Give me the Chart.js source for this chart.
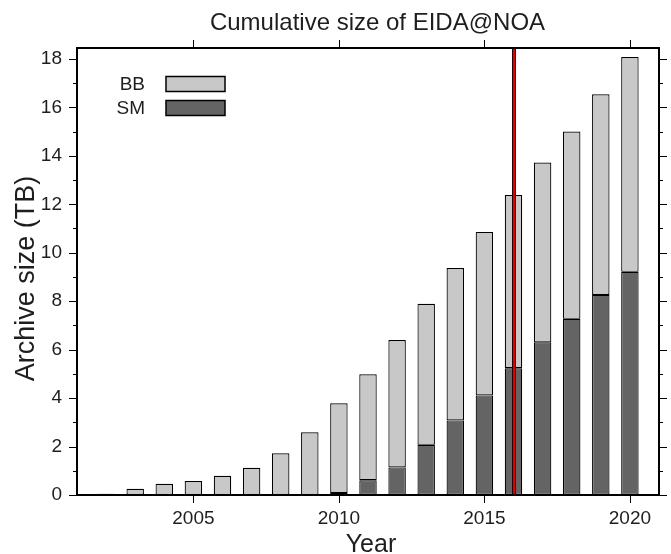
<!DOCTYPE html>
<html>
<head>
<meta charset="utf-8">
<script src="https://cdn.jsdelivr.net/npm/chart.js@4/dist/chart.umd.min.js"></script>
<style>
html,body{margin:0;padding:0;background:#fff;}
#wrap{width:671px;height:554px;position:relative;}
</style>
</head>
<body>
<div id="wrap"><canvas id="c" width="671" height="554"></canvas></div>
<script>
// ---- data ----
const years      = [2002,2003,2004,2005,2006,2007,2008,2009,2010,2011,2012,2013,2014,2015,2016,2017,2018,2019,2020];
const smValues   = [null,null,null,null,null,null,null,null,0.08,0.61,1.14,2.07,3.08,4.11,5.23,6.30,7.27,8.26,9.21];
const bbValues   = [0.05,0.26,0.46,0.58,0.79,1.12,1.72,2.59,3.71,4.37,5.26,5.82,6.29,6.75,7.15,7.42,7.73,8.28,8.87];
const yTickValues      = [0,2,4,6,8,10,12,14,16,18];
const yMinorTickValues = [1,3,5,7,9,11,13,15,17];
const xTickValues      = [2005,2010,2015,2020];
const markerYear = 2016;
const legendOrder = ['BB','SM'];
const chartTitle = 'Cumulative size of EIDA@NOA';
const xTitle = 'Year';
const yTitle = 'Archive size (TB)';

const FONT = '"Liberation Sans", Arial, Helvetica, sans-serif';
const TEXT = '#1e1e1e';

const decor = {
  id: 'decor',
  afterDatasetsDraw(chart) {
    const ctx = chart.ctx, a = chart.chartArea, xs = chart.scales.x, ys = chart.scales.y;
    ctx.save();
    // marker line
    const mx = Math.round(xs.getPixelForValue(markerYear));
    ctx.lineCap = 'butt';
    ctx.beginPath(); ctx.moveTo(mx, a.top); ctx.lineTo(mx, a.bottom);
    ctx.strokeStyle = '#2a0000'; ctx.lineWidth = 4; ctx.stroke();
    ctx.beginPath(); ctx.moveTo(mx, a.top); ctx.lineTo(mx, a.bottom);
    ctx.strokeStyle = '#e00000'; ctx.lineWidth = 2; ctx.stroke();
    // ticks
    ctx.strokeStyle = '#000'; ctx.lineWidth = 1;
    const hTick = (v, len) => {
      const py = Math.round(ys.getPixelForValue(v)) + 0.5;
      ctx.beginPath();
      ctx.moveTo(a.left - len, py); ctx.lineTo(a.left, py);
      ctx.moveTo(a.right, py); ctx.lineTo(a.right + len, py);
      ctx.stroke();
    };
    yTickValues.forEach(v => hTick(v, 8));
    yMinorTickValues.forEach(v => hTick(v, 4));
    xTickValues.forEach(v => {
      const px = Math.round(xs.getPixelForValue(v)) + 0.5;
      ctx.beginPath();
      ctx.moveTo(px, a.bottom); ctx.lineTo(px, a.bottom + 8);
      ctx.moveTo(px, a.top - 8); ctx.lineTo(px, a.top);
      ctx.stroke();
    });
    // frame
    ctx.lineWidth = 2; ctx.strokeStyle = '#000';
    ctx.strokeRect(a.left, a.top, a.right - a.left, a.bottom - a.top);
    // legend
    ctx.font = '19px ' + FONT;
    ctx.textAlign = 'right'; ctx.textBaseline = 'middle'; ctx.fillStyle = TEXT;
    legendOrder.forEach((lab, i) => {
      const ds = chart.data.datasets.find(d => d.label === lab);
      const cy = 84 + i * 24;
      ctx.fillStyle = TEXT;
      ctx.fillText(lab, 145, cy + 0.5);
      ctx.fillStyle = ds.backgroundColor;
      ctx.fillRect(166, cy - 7.5, 59, 15);
      ctx.lineWidth = 1.5; ctx.strokeStyle = '#000';
      ctx.strokeRect(166, cy - 7.5, 59, 15);
    });
    // titles
    ctx.fillStyle = TEXT; ctx.textAlign = 'center'; ctx.textBaseline = 'alphabetic';
    ctx.font = '24px ' + FONT;
    ctx.fillText(chartTitle, 377.5, 30);
    ctx.font = '25px ' + FONT;
    ctx.fillText(xTitle, 371, 552);
    ctx.save();
    ctx.font = '27px ' + FONT;
    ctx.translate(34, (a.top + a.bottom) / 2 + 7);
    ctx.rotate(-Math.PI / 2);
    ctx.fillText(yTitle, 0, 0);
    ctx.restore();
    ctx.restore();
  }
};

new Chart(document.getElementById('c'), {
  type: 'bar',
  data: {
    datasets: [
      { label: 'SM', data: years.map((yr, i) => ({ x: yr, y: smValues[i] })),
        backgroundColor: '#646464', borderColor: '#000', borderWidth: 1.2, borderSkipped: false,
        barPercentage: 0.6, categoryPercentage: 1.0 },
      { label: 'BB', data: years.map((yr, i) => ({ x: yr, y: bbValues[i] })),
        backgroundColor: '#c8c8c8', borderColor: '#000', borderWidth: 1.2, borderSkipped: false,
        barPercentage: 0.6, categoryPercentage: 1.0 }
    ]
  },
  options: {
    responsive: false,
    animation: false,
    events: [],
    layout: { padding: { left: 0, right: 12, top: 48, bottom: 0 } },
    plugins: { legend: { display: false }, tooltip: { enabled: false }, title: { display: false } },
    scales: {
      x: {
        type: 'linear', min: 2001, max: 2021, stacked: true, offset: false,
        grid: { display: false, drawTicks: false }, border: { display: false },
        ticks: { font: { size: 19, family: FONT }, color: TEXT, padding: 12, maxRotation: 0, autoSkip: false,
                 callback: v => String(v) },
        afterBuildTicks: s => { s.ticks = xTickValues.map(v => ({ value: v })); },
        afterFit: s => { s.height = 59; }
      },
      y: {
        min: 0, max: 18.45, stacked: true,
        grid: { display: false, drawTicks: false }, border: { display: false },
        ticks: { font: { size: 19, family: FONT }, color: TEXT, padding: 15, callback: v => String(v) },
        afterBuildTicks: s => { s.ticks = yTickValues.map(v => ({ value: v })); },
        afterFit: s => { s.width = 77; }
      }
    }
  },
  plugins: [decor]
});
</script>
</body>
</html>
